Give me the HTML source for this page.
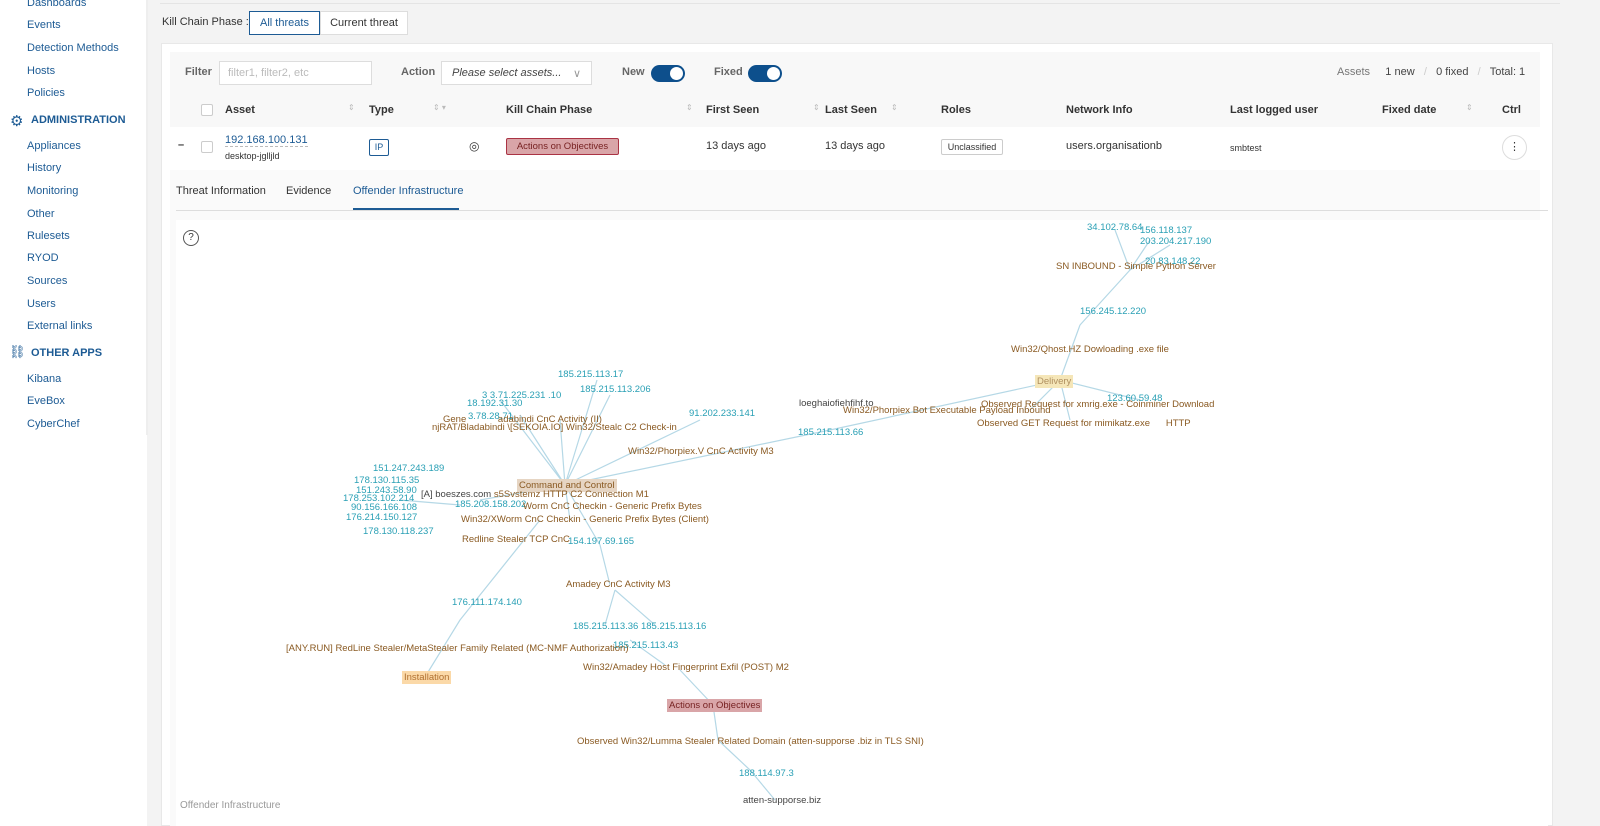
<!DOCTYPE html>
<html><head><meta charset="utf-8"><style>
*{box-sizing:border-box;margin:0;padding:0}
body{width:1600px;height:826px;overflow:hidden;background:#f3f3f3;font-family:"Liberation Sans",sans-serif;font-size:11px;color:#333;position:relative}
.a{position:absolute;white-space:nowrap}
.side{position:absolute;left:0;top:0;width:147px;height:826px;background:#fff}
.side .i{position:absolute;left:27px;color:#1d5b94;font-size:11px}
.side .h{position:absolute;left:31px;color:#1d5b94;font-weight:bold;font-size:11px}
.b{color:#8a5a22;font-size:9.5px}
.c{color:#2aa0b5;font-size:9.5px}
.d{color:#444;font-size:9.5px}
.th{font-weight:bold;font-size:11px;color:#333;top:104px}
</style></head><body>
<div class="side">
<div class="a" style="left:146px;top:0;width:2px;height:435px;background:#eee"></div>
<div class="i" style="top:-3px">Dashboards</div>
<div class="i" style="top:19px">Events</div>
<div class="i" style="top:42px">Detection Methods</div>
<div class="i" style="top:65px">Hosts</div>
<div class="i" style="top:87px">Policies</div>
<div class="a" style="left:10px;top:112px;color:#1d5b94;font-size:15px">⚙</div>
<div class="h" style="top:114px">ADMINISTRATION</div>
<div class="i" style="top:140px">Appliances</div>
<div class="i" style="top:162px">History</div>
<div class="i" style="top:185px">Monitoring</div>
<div class="i" style="top:208px">Other</div>
<div class="i" style="top:230px">Rulesets</div>
<div class="i" style="top:252px">RYOD</div>
<div class="i" style="top:275px">Sources</div>
<div class="i" style="top:298px">Users</div>
<div class="i" style="top:320px">External links</div>
<div class="a" style="left:9px;top:344px;color:#1d5b94;font-size:13px">⛓</div>
<div class="h" style="top:347px">OTHER APPS</div>
<div class="i" style="top:373px">Kibana</div>
<div class="i" style="top:395px">EveBox</div>
<div class="i" style="top:418px">CyberChef</div>
</div>
<div class="a" style="left:160px;top:3px;width:1400px;height:1px;background:#e4e4e4"></div>
<div class="a" style="left:162px;top:16px">Kill Chain Phase :</div>
<div class="a" style="left:249px;top:11px;width:71px;height:24px;border:1px solid #1d5b94;background:#fff;color:#1d5b94;text-align:center;line-height:22px">All threats</div>
<div class="a" style="left:320px;top:11px;width:88px;height:24px;border:1px solid #ddd;background:#fff;text-align:center;line-height:22px">Current threat</div>
<div class="a" style="left:161px;top:43px;width:1392px;height:783px;background:#fff;border:1px solid #e8e8e8"></div>
<div class="a" style="left:170px;top:52px;width:1370px;height:118px;background:#f8f8f8"></div>
<div class="a" style="left:170px;top:127px;width:1370px;height:43px;background:#fff"></div>
<div class="a" style="left:185px;top:66px;color:#666;font-weight:bold">Filter</div>
<div class="a" style="left:219px;top:61px;width:153px;height:24px;border:1px solid #ddd;background:#fff;color:#bbb;padding:5px 8px">filter1, filter2, etc</div>
<div class="a" style="left:401px;top:66px;color:#666;font-weight:bold">Action</div>
<div class="a" style="left:441px;top:61px;width:151px;height:24px;border:1px solid #ddd;background:#fff;color:#444;font-style:italic;padding:5px 10px">Please select assets...<span style="position:absolute;right:10px;color:#999;font-style:normal">∨</span></div>
<div class="a" style="left:622px;top:66px;color:#666;font-weight:bold">New</div>
<div class="a" style="left:651px;top:65px;width:34px;height:17px;border-radius:9px;background:#0d4f8c"><div style="position:absolute;right:2px;top:2px;width:13px;height:13px;border-radius:50%;background:#fff"></div></div>
<div class="a" style="left:714px;top:66px;color:#666;font-weight:bold">Fixed</div>
<div class="a" style="left:748px;top:65px;width:34px;height:17px;border-radius:9px;background:#0d4f8c"><div style="position:absolute;right:2px;top:2px;width:13px;height:13px;border-radius:50%;background:#fff"></div></div>
<div class="a" style="left:1337px;top:66px;color:#777">Assets &nbsp;&nbsp;&nbsp; <span style="color:#444">1 new</span> &nbsp;&nbsp;<span style="color:#ccc">/</span>&nbsp;&nbsp; <span style="color:#444">0 fixed</span> &nbsp;&nbsp;<span style="color:#ccc">/</span>&nbsp;&nbsp; <span style="color:#444">Total: 1</span></div>
<div class="a" style="left:201px;top:104px;width:12px;height:12px;border:1px solid #ccc;background:#fff;border-radius:2px"></div>
<div class="a th" style="left:225px">Asset</div><div class="a" style="left:348px;top:103px;color:#bbb;font-size:8px">⇕</div>
<div class="a th" style="left:369px">Type</div><div class="a" style="left:433px;top:103px;color:#bbb;font-size:8px">⇕ ▾</div>
<div class="a th" style="left:506px">Kill Chain Phase</div><div class="a" style="left:686px;top:103px;color:#bbb;font-size:8px">⇕</div>
<div class="a th" style="left:706px">First Seen</div><div class="a" style="left:813px;top:103px;color:#bbb;font-size:8px">⇕</div>
<div class="a th" style="left:825px">Last Seen</div><div class="a" style="left:891px;top:103px;color:#bbb;font-size:8px">⇕</div>
<div class="a th" style="left:941px">Roles</div>
<div class="a th" style="left:1066px">Network Info</div>
<div class="a th" style="left:1230px">Last logged user</div>
<div class="a th" style="left:1382px">Fixed date</div><div class="a" style="left:1466px;top:103px;color:#bbb;font-size:8px">⇕</div>
<div class="a th" style="left:1502px">Ctrl</div>
<div class="a" style="left:178px;top:139px;font-weight:bold">–</div>
<div class="a" style="left:201px;top:141px;width:12px;height:12px;border:1px solid #ccc;border-radius:2px"></div>
<div class="a" style="left:225px;top:134px;color:#1d5b94;border-bottom:1px dashed #bbb">192.168.100.131</div>
<div class="a" style="left:225px;top:151px;font-size:9px">desktop-jglljld</div>
<div class="a" style="left:369px;top:139px;width:20px;height:17px;border:1px solid #1d5b94;border-radius:2px;color:#1d5b94;font-size:9px;text-align:center;line-height:15px">IP</div>
<div class="a" style="left:469px;top:139px;font-size:12px">◎</div>
<div class="a" style="left:506px;top:138px;width:113px;height:17px;background:#d9a5a8;border:1px solid #a34;color:#722;font-size:9.5px;text-align:center;line-height:15px;border-radius:2px">Actions on Objectives</div>
<div class="a" style="left:706px;top:140px">13 days ago</div>
<div class="a" style="left:825px;top:140px">13 days ago</div>
<div class="a" style="left:941px;top:139px;width:62px;height:16px;border:1px solid #ccc;font-size:9px;text-align:center;line-height:14px;border-radius:2px">Unclassified</div>
<div class="a" style="left:1066px;top:140px">users.organisationb</div>
<div class="a" style="left:1230px;top:143px;font-size:9px">smbtest</div>
<div class="a" style="left:1502px;top:135px;width:25px;height:25px;border:1px solid #ddd;border-radius:50%;text-align:center;line-height:23px;background:#fff">⋮</div>
<div class="a" style="left:170px;top:170px;width:1370px;height:50px;background:#fafafa"></div>
<div class="a" style="left:176px;top:185px">Threat Information</div>
<div class="a" style="left:286px;top:185px">Evidence</div>
<div class="a" style="left:353px;top:185px;color:#1d5b94">Offender Infrastructure</div>
<div class="a" style="left:353px;top:208px;width:106px;height:2px;background:#1d5b94"></div>
<div class="a" style="left:176px;top:210px;width:1372px;height:1px;background:#ddd"></div>
<div class="a" style="left:170px;top:220px;width:6px;height:606px;background:#fafafa"></div>
<div class="a" style="left:176px;top:220px;width:1372px;height:606px;background:#fff"></div>
<div class="a" style="left:183px;top:230px;width:16px;height:16px;border:1px solid #555;border-radius:50%;text-align:center;font-size:10px;line-height:14px">?</div>
<svg class="a" style="left:0;top:0" width="1600" height="826"><g stroke="#b5d8e6" stroke-width="1.2" fill="none">
<path d="M565 485L520 415M565 485L500 400M565 485L560 420M565 485L610 395M565 485L597 380M565 485L700 420M565 485L830 430M830 430L1060 380M1060 380L1080 325M1080 325L1130 270M1130 270L1115 230M1130 270L1150 240M1130 270L1170 245M1060 380L1140 400M1060 380L1030 410M1060 380L1070 420M565 485L570 520M565 485L600 545M565 485L480 500M460 505L400 500M540 520L460 620M460 620L425 677M600 545L610 585M615 590L605 625M615 590L655 625M630 640L665 665M680 670L713 705M713 705L718 740M718 740L750 770M750 770L775 800"/></g></svg>
<div class="a c" style="left:1087px;top:222px">34.102.78.64</div>
<div class="a c" style="left:1140px;top:225px">156.118.137</div>
<div class="a c" style="left:1140px;top:236px">203.204.217.190</div>
<div class="a c" style="left:1145px;top:256px">20.83.148.22</div>
<div class="a b" style="left:1056px;top:261px">SN INBOUND - Simple Python Server</div>
<div class="a c" style="left:1080px;top:306px">156.245.12.220</div>
<div class="a b" style="left:1011px;top:344px">Win32/Qhost.HZ Dowloading .exe file</div>
<div class="a b" style="left:1035px;top:375px;background:#f5e6b8;padding:1px 2px;color:#b09060">Delivery</div>
<div class="a c" style="left:1107px;top:393px">123.60.59.48</div>
<div class="a b" style="left:981px;top:399px">Observed Request for xmrig.exe - Coinminer Download</div>
<div class="a d" style="left:799px;top:398px">loeghaiofiehfihf.to</div>
<div class="a b" style="left:843px;top:405px">Win32/Phorpiex Bot Executable Payload Inbound</div>
<div class="a b" style="left:977px;top:418px">Observed GET Request for mimikatz.exe &nbsp;&nbsp;&nbsp;&nbsp;&nbsp;HTTP</div>
<div class="a c" style="left:798px;top:427px">185.215.113.66</div>
<div class="a c" style="left:689px;top:408px">91.202.233.141</div>
<div class="a b" style="left:628px;top:446px">Win32/Phorpiex.V CnC Activity M3</div>
<div class="a c" style="left:558px;top:369px">185.215.113.17</div>
<div class="a c" style="left:580px;top:384px">185.215.113.206</div>
<div class="a c" style="left:482px;top:390px">3 3.71.225.231 .10</div>
<div class="a c" style="left:467px;top:398px">18.192.31.30</div>
<div class="a c" style="left:468px;top:411px">3.78.28.71</div>
<div class="a b" style="left:443px;top:414px">Gene &nbsp;&nbsp;&nbsp;&nbsp;&nbsp;&nbsp;&nbsp;&nbsp;&nbsp;&nbsp;&nbsp;adabindi CnC Activity (II)</div>
<div class="a b" style="left:432px;top:422px">njRAT/Bladabindi \[SEKOIA.IO] Win32/Stealc C2 Check-in</div>
<div class="a b" style="left:517px;top:479px;background:#e6d5c3;padding:1px 2px">Command and Control</div>
<div class="a c" style="left:373px;top:463px">151.247.243.189</div>
<div class="a c" style="left:354px;top:475px">178.130.115.35</div>
<div class="a c" style="left:356px;top:485px">151.243.58.90</div>
<div class="a c" style="left:343px;top:493px">178.253.102.214</div>
<div class="a b" style="left:421px;top:489px"><span class="d">[A] boeszes.com</span> s5Svstemz HTTP C2 Connection M1</div>
<div class="a c" style="left:455px;top:499px">185.208.158.202</div>
<div class="a b" style="left:523px;top:501px">Worm CnC Checkin - Generic Prefix Bytes</div>
<div class="a c" style="left:351px;top:502px">90.156.166.108</div>
<div class="a c" style="left:346px;top:512px">176.214.150.127</div>
<div class="a b" style="left:461px;top:514px">Win32/XWorm CnC Checkin - Generic Prefix Bytes (Client)</div>
<div class="a c" style="left:363px;top:526px">178.130.118.237</div>
<div class="a b" style="left:462px;top:534px">Redline Stealer TCP CnC</div>
<div class="a c" style="left:568px;top:536px">154.197.69.165</div>
<div class="a b" style="left:566px;top:579px">Amadey CnC Activity M3</div>
<div class="a c" style="left:452px;top:597px">176.111.174.140</div>
<div class="a c" style="left:573px;top:621px">185.215.113.36 185.215.113.16</div>
<div class="a c" style="left:613px;top:640px">185.215.113.43</div>
<div class="a b" style="left:286px;top:643px">[ANY.RUN] RedLine Stealer/MetaStealer Family Related (MC-NMF Authorization)</div>
<div class="a b" style="left:583px;top:662px">Win32/Amadey Host Fingerprint Exfil (POST) M2</div>
<div class="a b" style="left:402px;top:671px;background:#fbd9a8;padding:1px 2px;color:#b07030">Installation</div>
<div class="a b" style="left:667px;top:699px;background:#d9a5a8;padding:1px 2px;color:#722">Actions on Objectives</div>
<div class="a b" style="left:577px;top:736px">Observed Win32/Lumma Stealer Related Domain (atten-supporse .biz in TLS SNI)</div>
<div class="a c" style="left:739px;top:768px">188.114.97.3</div>
<div class="a d" style="left:743px;top:795px">atten-supporse.biz</div>
<div class="a" style="left:180px;top:800px;color:#999;font-size:10px">Offender Infrastructure</div>
</body></html>
